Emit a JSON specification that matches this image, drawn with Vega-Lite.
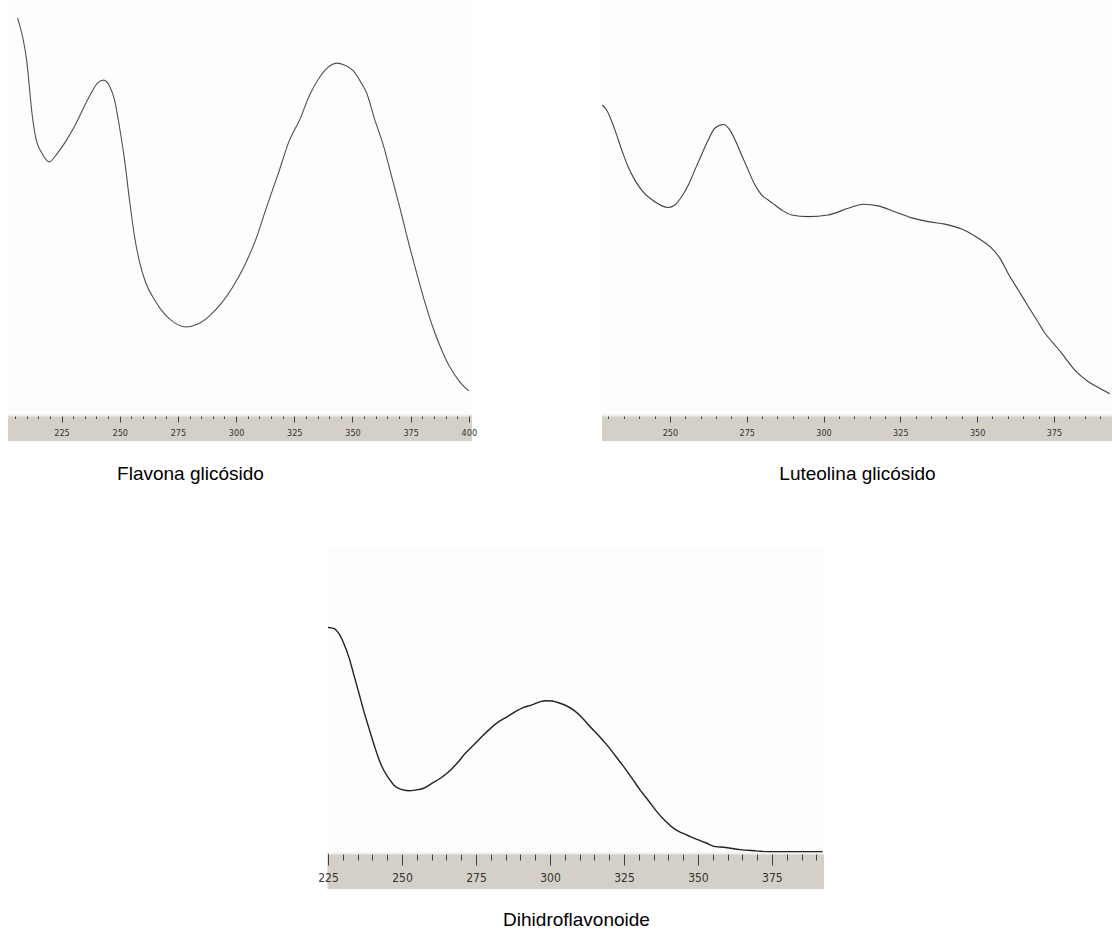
{
  "$schema": "https://vega.github.io/schema/vega-lite/v6.json",
  "background": "white",
  "padding": {"left": 8, "top": 0, "right": 0, "bottom": 4},
  "spacing": 66,
  "config": {
    "view": {"stroke": null, "fill": null},
    "axis": {
      "grid": false,
      "domainColor": "#eeeeee",
      "domainWidth": 2,
      "tickColor": "#404040",
      "tickWidth": 1,
      "labelColor": "#333333",
      "labelFont": "Liberation Sans Narrow, DejaVu Sans Condensed, sans-serif",
      "labelOverlap": false,
      "labelFlush": false,
      "titleFont": "Liberation Sans, Arial, sans-serif",
      "titleFontWeight": "normal",
      "titleColor": "#000000",
      "titleFontSize": 19
    }
  },
  "datasets": {
    "flavona": [
      {"nm": 206.1, "a": 0.957}, {"nm": 210.0, "a": 0.855}, {"nm": 212.5, "a": 0.718}, {"nm": 214.1, "a": 0.663},
      {"nm": 216.3, "a": 0.634}, {"nm": 219.8, "a": 0.610}, {"nm": 222.7, "a": 0.627}, {"nm": 227.2, "a": 0.663},
      {"nm": 231.3, "a": 0.703}, {"nm": 234.0, "a": 0.735}, {"nm": 237.3, "a": 0.771}, {"nm": 240.6, "a": 0.801},
      {"nm": 243.1, "a": 0.807}, {"nm": 245.6, "a": 0.793}, {"nm": 247.8, "a": 0.759}, {"nm": 249.9, "a": 0.694},
      {"nm": 252.1, "a": 0.614}, {"nm": 254.2, "a": 0.518}, {"nm": 256.4, "a": 0.429}, {"nm": 258.5, "a": 0.369},
      {"nm": 261.1, "a": 0.320}, {"nm": 265.0, "a": 0.277}, {"nm": 269.3, "a": 0.243}, {"nm": 273.6, "a": 0.222},
      {"nm": 278.7, "a": 0.212}, {"nm": 283.5, "a": 0.219}, {"nm": 288.6, "a": 0.239}, {"nm": 293.8, "a": 0.270},
      {"nm": 298.5, "a": 0.308}, {"nm": 303.7, "a": 0.361}, {"nm": 308.4, "a": 0.422}, {"nm": 313.1, "a": 0.501},
      {"nm": 317.9, "a": 0.578}, {"nm": 323.0, "a": 0.663}, {"nm": 327.3, "a": 0.711}, {"nm": 331.6, "a": 0.771},
      {"nm": 335.9, "a": 0.814}, {"nm": 340.2, "a": 0.841}, {"nm": 343.2, "a": 0.848}, {"nm": 346.7, "a": 0.843},
      {"nm": 350.1, "a": 0.831}, {"nm": 353.6, "a": 0.802}, {"nm": 356.1, "a": 0.776}, {"nm": 359.6, "a": 0.711},
      {"nm": 363.0, "a": 0.655}, {"nm": 366.9, "a": 0.573}, {"nm": 370.3, "a": 0.501}, {"nm": 373.8, "a": 0.422},
      {"nm": 377.6, "a": 0.342}, {"nm": 381.1, "a": 0.272}, {"nm": 384.5, "a": 0.212}, {"nm": 388.0, "a": 0.161},
      {"nm": 391.8, "a": 0.116}, {"nm": 396.1, "a": 0.080}, {"nm": 400.0, "a": 0.058}
    ],
    "luteolina": [
      {"nm": 228.0, "a": 0.747}, {"nm": 229.4, "a": 0.735}, {"nm": 232.1, "a": 0.687}, {"nm": 234.3, "a": 0.639},
      {"nm": 236.4, "a": 0.598}, {"nm": 238.6, "a": 0.566}, {"nm": 240.8, "a": 0.542}, {"nm": 245.1, "a": 0.514},
      {"nm": 249.4, "a": 0.500}, {"nm": 251.6, "a": 0.506}, {"nm": 253.8, "a": 0.526}, {"nm": 256.0, "a": 0.554},
      {"nm": 258.1, "a": 0.590}, {"nm": 260.3, "a": 0.627}, {"nm": 262.5, "a": 0.663}, {"nm": 264.6, "a": 0.691},
      {"nm": 267.4, "a": 0.700}, {"nm": 269.5, "a": 0.687}, {"nm": 271.2, "a": 0.663}, {"nm": 273.3, "a": 0.627},
      {"nm": 275.5, "a": 0.590}, {"nm": 277.7, "a": 0.554}, {"nm": 279.9, "a": 0.530}, {"nm": 282.0, "a": 0.518},
      {"nm": 284.2, "a": 0.506}, {"nm": 286.4, "a": 0.494}, {"nm": 289.6, "a": 0.482}, {"nm": 295.0, "a": 0.478},
      {"nm": 301.5, "a": 0.482}, {"nm": 308.0, "a": 0.498}, {"nm": 312.9, "a": 0.508}, {"nm": 317.8, "a": 0.504},
      {"nm": 323.2, "a": 0.490}, {"nm": 328.7, "a": 0.475}, {"nm": 334.1, "a": 0.466}, {"nm": 339.5, "a": 0.460},
      {"nm": 345.0, "a": 0.448}, {"nm": 350.4, "a": 0.426}, {"nm": 354.7, "a": 0.402}, {"nm": 357.4, "a": 0.378},
      {"nm": 360.1, "a": 0.341}, {"nm": 363.4, "a": 0.301}, {"nm": 366.7, "a": 0.261}, {"nm": 369.4, "a": 0.229},
      {"nm": 372.1, "a": 0.197}, {"nm": 374.8, "a": 0.173}, {"nm": 377.5, "a": 0.149}, {"nm": 381.8, "a": 0.108},
      {"nm": 386.2, "a": 0.080}, {"nm": 390.0, "a": 0.064}, {"nm": 393.2, "a": 0.051}
    ],
    "dihidro": [
      {"nm": 225.0, "a": 0.742}, {"nm": 226.9, "a": 0.739}, {"nm": 228.6, "a": 0.723}, {"nm": 230.3, "a": 0.690},
      {"nm": 232.0, "a": 0.646}, {"nm": 233.6, "a": 0.591}, {"nm": 235.3, "a": 0.531}, {"nm": 237.0, "a": 0.470},
      {"nm": 238.7, "a": 0.415}, {"nm": 240.4, "a": 0.361}, {"nm": 242.1, "a": 0.311}, {"nm": 243.8, "a": 0.273},
      {"nm": 245.5, "a": 0.246}, {"nm": 247.2, "a": 0.224}, {"nm": 249.5, "a": 0.210}, {"nm": 252.3, "a": 0.205},
      {"nm": 254.5, "a": 0.207}, {"nm": 257.3, "a": 0.213}, {"nm": 260.1, "a": 0.229}, {"nm": 263.0, "a": 0.246},
      {"nm": 265.8, "a": 0.267}, {"nm": 268.6, "a": 0.295}, {"nm": 271.4, "a": 0.328}, {"nm": 274.2, "a": 0.355},
      {"nm": 277.0, "a": 0.383}, {"nm": 279.9, "a": 0.410}, {"nm": 282.7, "a": 0.432}, {"nm": 285.5, "a": 0.448},
      {"nm": 288.3, "a": 0.465}, {"nm": 291.1, "a": 0.479}, {"nm": 293.9, "a": 0.487}, {"nm": 296.8, "a": 0.498},
      {"nm": 298.4, "a": 0.501}, {"nm": 300.6, "a": 0.500}, {"nm": 302.4, "a": 0.496}, {"nm": 305.2, "a": 0.486},
      {"nm": 308.0, "a": 0.470}, {"nm": 310.8, "a": 0.446}, {"nm": 313.6, "a": 0.415}, {"nm": 316.5, "a": 0.386},
      {"nm": 319.3, "a": 0.355}, {"nm": 322.1, "a": 0.320}, {"nm": 324.9, "a": 0.284}, {"nm": 327.7, "a": 0.246},
      {"nm": 330.5, "a": 0.207}, {"nm": 333.3, "a": 0.172}, {"nm": 336.1, "a": 0.136}, {"nm": 339.0, "a": 0.105},
      {"nm": 341.8, "a": 0.081}, {"nm": 344.6, "a": 0.066}, {"nm": 347.4, "a": 0.054}, {"nm": 350.2, "a": 0.043},
      {"nm": 353.0, "a": 0.032}, {"nm": 355.9, "a": 0.021}, {"nm": 358.7, "a": 0.019}, {"nm": 364.3, "a": 0.011},
      {"nm": 369.8, "a": 0.007}, {"nm": 373.9, "a": 0.004}, {"nm": 380.6, "a": 0.004}, {"nm": 392.1, "a": 0.004}
    ]
  },
  "vconcat": [
    {
      "bounds": "flush",
      "spacing": 132,
      "hconcat": [
        {
          "width": 462,
          "height": 415,
          "view": {"fill": "#fdfdfd"},
          "layer": [
            {
              "data": {"values": [{"band": 1}]},
              "mark": {"type": "rect", "color": "#d4d0c8"},
              "encoding": {
                "x": {
                  "datum": 202, "type": "quantitative",
                  "axis": {
                    "values": [205,210,215,220,225,230,235,240,245,250,255,260,265,270,275,280,285,290,295,300,305,310,315,320,325,330,335,340,345,350,355,360,365,370,375,380,385,390,395,400],
                    "labelExpr": "datum.value % 25 === 0 ? datum.label : ''",
                    "tickSize": {"condition": {"test": "datum.value % 25 === 0", "value": 7}, "value": 3.5},
                    "labelFontSize": 9, "labelPadding": 6, "zindex": 1,
                    "title": "Flavona glicósido", "titlePadding": 27, "titleX": 182
                  }
                },
                "x2": {"datum": 401.3},
                "y": {"datum": -0.0627, "type": "quantitative", "axis": null},
                "y2": {"datum": 0}
              }
            },
            {
              "data": {"name": "flavona"},
              "mark": {"type": "line", "interpolate": "monotone", "color": "#505050", "strokeWidth": 1.1},
              "encoding": {
                "x": {
                  "field": "nm", "type": "quantitative",
                  "scale": {"domain": [202, 400.5], "nice": false, "zero": false},
                  "axis": {
                    "values": [205,210,215,220,225,230,235,240,245,250,255,260,265,270,275,280,285,290,295,300,305,310,315,320,325,330,335,340,345,350,355,360,365,370,375,380,385,390,395,400],
                    "labelExpr": "datum.value % 25 === 0 ? datum.label : ''",
                    "tickSize": {"condition": {"test": "datum.value % 25 === 0", "value": 7}, "value": 3.5},
                    "labelFontSize": 9, "labelPadding": 6, "zindex": 1,
                    "title": "Flavona glicósido", "titlePadding": 27, "titleX": 182
                  }
                },
                "y": {
                  "field": "a", "type": "quantitative",
                  "scale": {"domain": [0, 1], "nice": false, "zero": false},
                  "axis": null
                }
              }
            }
          ]
        },
        {
          "width": 510,
          "height": 415,
          "view": {"fill": "#fdfdfd"},
          "layer": [
            {
              "data": {"values": [{"band": 1}]},
              "mark": {"type": "rect", "color": "#d4d0c8"},
              "encoding": {
                "x": {
                  "datum": 227.9, "type": "quantitative",
                  "axis": {
                    "values": [230,235,240,245,250,255,260,265,270,275,280,285,290,295,300,305,310,315,320,325,330,335,340,345,350,355,360,365,370,375,380,385,390],
                    "labelExpr": "datum.value % 25 === 0 ? datum.label : ''",
                    "tickSize": {"condition": {"test": "datum.value % 25 === 0", "value": 7}, "value": 3.5},
                    "labelFontSize": 9, "labelPadding": 6, "zindex": 1,
                    "title": "Luteolina glicósido", "titlePadding": 27
                  }
                },
                "x2": {"datum": 393.9},
                "y": {"datum": -0.0627, "type": "quantitative", "axis": null},
                "y2": {"datum": 0}
              }
            },
            {
              "data": {"name": "luteolina"},
              "mark": {"type": "line", "interpolate": "monotone", "color": "#404040", "strokeWidth": 1.1},
              "encoding": {
                "x": {
                  "field": "nm", "type": "quantitative",
                  "scale": {"domain": [227.9, 393.9], "nice": false, "zero": false},
                  "axis": {
                    "values": [230,235,240,245,250,255,260,265,270,275,280,285,290,295,300,305,310,315,320,325,330,335,340,345,350,355,360,365,370,375,380,385,390],
                    "labelExpr": "datum.value % 25 === 0 ? datum.label : ''",
                    "tickSize": {"condition": {"test": "datum.value % 25 === 0", "value": 7}, "value": 3.5},
                    "labelFontSize": 9, "labelPadding": 6, "zindex": 1,
                    "title": "Luteolina glicósido", "titlePadding": 27
                  }
                },
                "y": {
                  "field": "a", "type": "quantitative",
                  "scale": {"domain": [0, 1], "nice": false, "zero": false},
                  "axis": null
                }
              }
            }
          ]
        }
      ]
    },
    {
      "bounds": "flush",
      "spacing": 20,
      "hconcat": [
        {
          "width": 300,
          "height": 10,
          "data": {"values": [{"spacer": 1}]},
          "mark": {"type": "point", "opacity": 0},
          "encoding": {}
        },
        {
          "width": 496,
          "height": 304,
          "view": {"fill": "#fdfdfd"},
          "layer": [
            {
              "data": {"values": [{"band": 1}]},
              "mark": {"type": "rect", "color": "#d4d0c8"},
              "encoding": {
                "x": {
                  "datum": 224.8, "type": "quantitative",
                  "axis": {
                    "values": [225,230,235,240,245,250,255,260,265,270,275,280,285,290,295,300,305,310,315,320,325,330,335,340,345,350,355,360,365,370,375,380,385,390],
                    "labelExpr": "datum.value % 25 === 0 ? datum.label : ''",
                    "tickSize": {"condition": {"test": "datum.value % 25 === 0", "value": 12}, "value": 7},
                    "labelFontSize": 12, "labelPadding": 7, "zindex": 1,
                    "title": "Dihidroflavonoide", "titlePadding": 27
                  }
                },
                "x2": {"datum": 392.6},
                "y": {"datum": -0.1184, "type": "quantitative", "axis": null},
                "y2": {"datum": 0}
              }
            },
            {
              "data": {"name": "dihidro"},
              "mark": {"type": "line", "interpolate": "monotone", "color": "#222222", "strokeWidth": 1.4},
              "encoding": {
                "x": {
                  "field": "nm", "type": "quantitative",
                  "scale": {"domain": [225, 392.6], "nice": false, "zero": false},
                  "axis": {
                    "values": [225,230,235,240,245,250,255,260,265,270,275,280,285,290,295,300,305,310,315,320,325,330,335,340,345,350,355,360,365,370,375,380,385,390],
                    "labelExpr": "datum.value % 25 === 0 ? datum.label : ''",
                    "tickSize": {"condition": {"test": "datum.value % 25 === 0", "value": 12}, "value": 7},
                    "labelFontSize": 12, "labelPadding": 7, "zindex": 1,
                    "title": "Dihidroflavonoide", "titlePadding": 27
                  }
                },
                "y": {
                  "field": "a", "type": "quantitative",
                  "scale": {"domain": [0, 1], "nice": false, "zero": false},
                  "axis": null
                }
              }
            }
          ]
        }
      ]
    }
  ]
}
